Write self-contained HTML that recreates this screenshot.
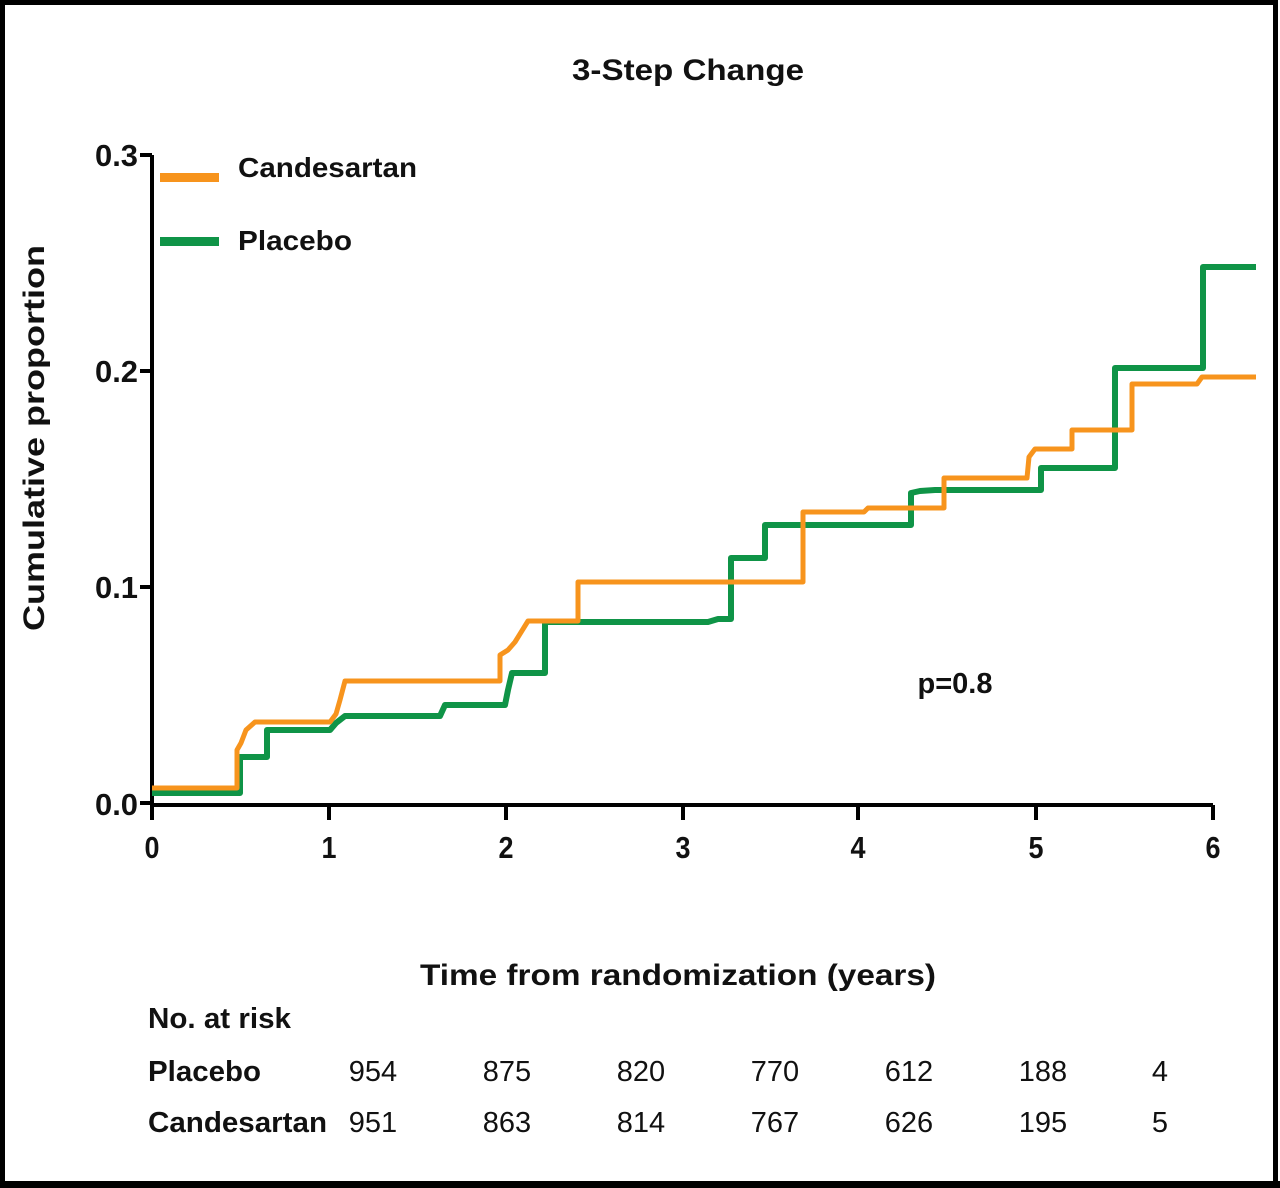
<!DOCTYPE html>
<html><head><meta charset="utf-8"><style>
html,body{margin:0;padding:0;background:#fff}
svg{display:block}
text{font-family:"Liberation Sans",Arial,sans-serif;fill:#111}
.b{font-weight:bold}
</style></head><body>
<svg width="1280" height="1188" viewBox="0 0 1280 1188" xmlns="http://www.w3.org/2000/svg">
<rect x="2.5" y="2.5" width="1273" height="1181" fill="#fff" stroke="#000" stroke-width="5"/>
<rect x="0" y="1181" width="1280" height="7" fill="#000"/>
<text x="688" y="80" class="b" font-size="30" text-anchor="middle" textLength="232" lengthAdjust="spacingAndGlyphs">3-Step Change</text>
<text transform="translate(44,438) rotate(-90)" class="b" font-size="30" text-anchor="middle" textLength="386" lengthAdjust="spacingAndGlyphs">Cumulative proportion</text>
<g stroke="#000" stroke-width="4" fill="none">
<path d="M152 155 V805 H1213"/>
<path d="M140 155 H152 M140 371 H152 M140 587 H152 M140 803 H152"/>
<path d="M152 805 V820 M329 805 V820 M506 805 V820 M683 805 V820 M858 805 V820 M1036 805 V820 M1213 805 V820"/>
</g>
<g font-size="31" text-anchor="end">
<text x="138" y="166" class="b" textLength="43" lengthAdjust="spacingAndGlyphs">0.3</text>
<text x="138" y="382" class="b" textLength="43" lengthAdjust="spacingAndGlyphs">0.2</text>
<text x="138" y="598" class="b" textLength="43" lengthAdjust="spacingAndGlyphs">0.1</text>
<text x="138" y="815" class="b" textLength="43" lengthAdjust="spacingAndGlyphs">0.0</text>
</g>
<g font-size="31" text-anchor="middle">
<text x="152" y="858" class="b" textLength="15" lengthAdjust="spacingAndGlyphs">0</text>
<text x="329" y="858" class="b" textLength="15" lengthAdjust="spacingAndGlyphs">1</text>
<text x="506" y="858" class="b" textLength="15" lengthAdjust="spacingAndGlyphs">2</text>
<text x="683" y="858" class="b" textLength="15" lengthAdjust="spacingAndGlyphs">3</text>
<text x="858" y="858" class="b" textLength="15" lengthAdjust="spacingAndGlyphs">4</text>
<text x="1036" y="858" class="b" textLength="15" lengthAdjust="spacingAndGlyphs">5</text>
<text x="1213" y="858" class="b" textLength="15" lengthAdjust="spacingAndGlyphs">6</text>
</g>
<rect x="160" y="173" width="59" height="9" fill="#F7941D"/>
<rect x="160" y="237" width="59" height="9" fill="#0F9447"/>
<text x="238" y="177" class="b" font-size="28" textLength="179" lengthAdjust="spacingAndGlyphs">Candesartan</text>
<text x="238" y="250" class="b" font-size="28" textLength="114" lengthAdjust="spacingAndGlyphs">Placebo</text>
<path fill="none" stroke="#0F9447" stroke-width="6" stroke-linejoin="round" d="M152 793 H240 V757 H267 V730 H330 L336 723 L345 716 H440 L445 705 H505 L508 690 L512 673 H545 V622 H708 L718 619 H731 V558 H765 V525 H911 V493 L920 491 L935 490 H1041 V468 H1115 V368 H1203 V267 H1256"/>
<path fill="none" stroke="#F7941D" stroke-width="5" stroke-linejoin="round" d="M152 788 H237 V750 L241 743 L246 730 L255 722 H330 L336 714 L340 700 L345 681 H500 V655 L508 650 L515 642 L528 621 H578 V582 H803 V512 H864 L868 508 H944 V478 H1027 L1029 457 L1035 449 H1072 V430 H1132 V384 H1197 L1202 377 H1256"/>
<text x="955" y="693" class="b" font-size="29" text-anchor="middle" textLength="75" lengthAdjust="spacingAndGlyphs">p=0.8</text>
<text x="678" y="985" class="b" font-size="30" text-anchor="middle" textLength="516" lengthAdjust="spacingAndGlyphs">Time from randomization (years)</text>
<text x="148" y="1028" class="b" font-size="29" textLength="143" lengthAdjust="spacingAndGlyphs">No. at risk</text>
<text x="148" y="1081" class="b" font-size="29" textLength="113" lengthAdjust="spacingAndGlyphs">Placebo</text>
<text x="148" y="1132" class="b" font-size="29" textLength="179" lengthAdjust="spacingAndGlyphs">Candesartan</text>
<g font-size="29" text-anchor="middle">
<text x="373" y="1081">954</text><text x="507" y="1081">875</text><text x="641" y="1081">820</text><text x="775" y="1081">770</text><text x="909" y="1081">612</text><text x="1043" y="1081">188</text><text x="1160" y="1081">4</text>
<text x="373" y="1132">951</text><text x="507" y="1132">863</text><text x="641" y="1132">814</text><text x="775" y="1132">767</text><text x="909" y="1132">626</text><text x="1043" y="1132">195</text><text x="1160" y="1132">5</text>
</g>
</svg>
</body></html>
